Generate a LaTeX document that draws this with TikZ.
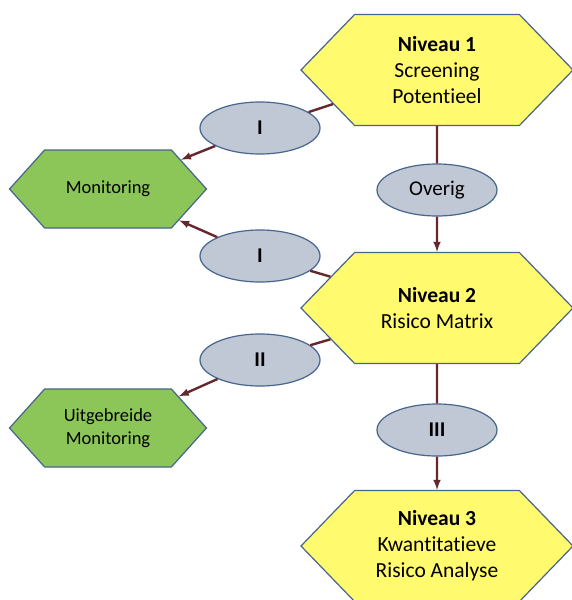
\documentclass[tikz,border=0pt]{standalone}
\usepackage{fontspec}
\setmainfont{Carlito}[Ligatures=NoCommon]
\usepackage{tikz}
\usetikzlibrary{shapes.symbols,shapes.geometric,arrows,positioning}

\definecolor{niveaugeel}{RGB}{255,250,110}
\definecolor{monitorgroen}{RGB}{140,198,88}
\definecolor{klassegrijs}{RGB}{192,200,214}
\definecolor{randblauw}{RGB}{70,100,140}
\definecolor{pijlbruin}{RGB}{100,40,45}

\begin{document}
\begin{tikzpicture}[x=1pt,y=-1pt,
	niveau/.style={shape=signal, signal to=west and east, signal pointer angle=92,
		draw=randblauw, line width=1.2pt, fill=niveaugeel, minimum width=272pt,
		minimum height=111pt, inner sep=0pt, align=center, font=\fontsize{21.5}{26}\selectfont},
	monitor/.style={shape=signal, signal to=west and east, signal pointer angle=96,
		draw=randblauw, line width=1.2pt, fill=monitorgroen, minimum width=197pt,
		minimum height=78pt, inner sep=0pt, align=center, font=\fontsize{18.5}{23}\selectfont},
	klasse/.style={ellipse, draw=randblauw, line width=1.2pt, fill=klassegrijs,
		minimum width=120pt, minimum height=52pt, inner sep=0pt, font=\fontsize{21}{22}\selectfont},
	conn/.style={draw=pijlbruin, line width=2.4pt}]
	
	\useasboundingbox (0,0) rectangle (571,600);
	\fill[white] (0,0) rectangle (571,600);
	
	% niveaus
	\node[niveau] (niv1) at (437,70) {\textbf{Niveau 1}\\Screening\\Potentieel};
	\node[niveau] (niv2) at (437,308) {\textbf{Niveau 2}\\Risico Matrix};
	\node[niveau] (niv3) at (437,546) {\textbf{Niveau 3}\\Kwantitatieve\\Risico Analyse};
	
	% monitoring
	\node[monitor] (mon) at (108,189) {Monitoring};
	\node[monitor] (uitmon) at (108,428) {Uitgebreide\\Monitoring};
	
	% klassen
	\node[klasse] (kl1) at (260,128) {\textbf{I}};
	\node[klasse] (overig) at (437,190) {Overig};
	\node[klasse] (kl2) at (260,256) {\textbf{I}};
	\node[klasse] (kl3) at (260,360) {\textbf{II}};
	\node[klasse] (kl4) at (437,430) {\textbf{III}};
	
	\draw[conn] (niv1) -- (kl1);
	\draw[conn,->,>=latex] (kl1) -- (mon);
	\draw[conn] (niv1) -- (overig);
	\draw[conn,->,>=latex] (overig) -- (niv2);
	\draw[conn] (niv2) -- (kl2);
	\draw[conn,->,>=latex] (kl2) -- (mon);
	\draw[conn] (niv2) -- (kl3);
	\draw[conn,->,>=latex] (kl3) -- (uitmon);
	\draw[conn] (niv2) -- (kl4);
	\draw[conn,->,>=latex] (kl4) -- (niv3);
	
\end{tikzpicture}
\end{document}
